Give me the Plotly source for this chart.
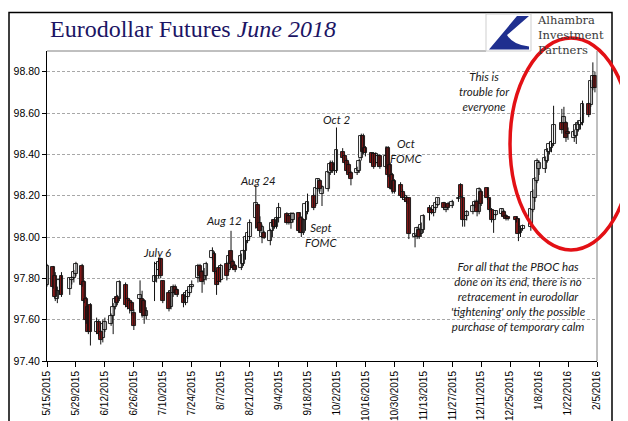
import plotly.graph_objects as go

# ---------------- data ----------------
dates = [
    "2015-05-15", "2015-05-18", "2015-05-19", "2015-05-20", "2015-05-21", "2015-05-22",
    "2015-05-26", "2015-05-27", "2015-05-28", "2015-05-29",
    "2015-06-01", "2015-06-02", "2015-06-03", "2015-06-04", "2015-06-05",
    "2015-06-08", "2015-06-09", "2015-06-10", "2015-06-11", "2015-06-12",
    "2015-06-15", "2015-06-16", "2015-06-17", "2015-06-18", "2015-06-19",
    "2015-06-22", "2015-06-23", "2015-06-24", "2015-06-25", "2015-06-26",
    "2015-06-29", "2015-06-30", "2015-07-01", "2015-07-02",
    "2015-07-06", "2015-07-07", "2015-07-08", "2015-07-09", "2015-07-10",
    "2015-07-13", "2015-07-14", "2015-07-15", "2015-07-16", "2015-07-17",
    "2015-07-20", "2015-07-21", "2015-07-22", "2015-07-23", "2015-07-24",
    "2015-07-27", "2015-07-28", "2015-07-29", "2015-07-30", "2015-07-31",
    "2015-08-03", "2015-08-04", "2015-08-05", "2015-08-06", "2015-08-07",
    "2015-08-10", "2015-08-11", "2015-08-12", "2015-08-13", "2015-08-14",
    "2015-08-17", "2015-08-18", "2015-08-19", "2015-08-20", "2015-08-21",
    "2015-08-24", "2015-08-25", "2015-08-26", "2015-08-27", "2015-08-28",
    "2015-08-31", "2015-09-01", "2015-09-02", "2015-09-03", "2015-09-04",
    "2015-09-08", "2015-09-09", "2015-09-10", "2015-09-11",
    "2015-09-14", "2015-09-15", "2015-09-16", "2015-09-17", "2015-09-18",
    "2015-09-21", "2015-09-22", "2015-09-23", "2015-09-24", "2015-09-25",
    "2015-09-28", "2015-09-29", "2015-09-30", "2015-10-01", "2015-10-02",
    "2015-10-05", "2015-10-06", "2015-10-07", "2015-10-08", "2015-10-09",
    "2015-10-12", "2015-10-13", "2015-10-14", "2015-10-15", "2015-10-16",
    "2015-10-19", "2015-10-20", "2015-10-21", "2015-10-22", "2015-10-23",
    "2015-10-26", "2015-10-27", "2015-10-28", "2015-10-29", "2015-10-30",
    "2015-11-02", "2015-11-03", "2015-11-04", "2015-11-05", "2015-11-06",
    "2015-11-09", "2015-11-10", "2015-11-11", "2015-11-12", "2015-11-13",
    "2015-11-16", "2015-11-17", "2015-11-18", "2015-11-19", "2015-11-20",
    "2015-11-23", "2015-11-24", "2015-11-25", "2015-11-27",
    "2015-11-30", "2015-12-01", "2015-12-02", "2015-12-03", "2015-12-04",
    "2015-12-07", "2015-12-08", "2015-12-09", "2015-12-10", "2015-12-11",
    "2015-12-14", "2015-12-15", "2015-12-16", "2015-12-17", "2015-12-18",
    "2015-12-21", "2015-12-22", "2015-12-23", "2015-12-24",
    "2015-12-28", "2015-12-29", "2015-12-30", "2015-12-31",
    "2016-01-04", "2016-01-05", "2016-01-06", "2016-01-07", "2016-01-08",
    "2016-01-11", "2016-01-12", "2016-01-13", "2016-01-14", "2016-01-15",
    "2016-01-19", "2016-01-20", "2016-01-21", "2016-01-22",
    "2016-01-25", "2016-01-26", "2016-01-27", "2016-01-28", "2016-01-29",
    "2016-02-01", "2016-02-02", "2016-02-03", "2016-02-04",
]

open_p = [
    97.77, 97.855, 97.81, 97.70, 97.74, 97.81,
    97.75, 97.79, 97.80, 97.82,
    97.86, 97.78, 97.70, 97.66, 97.67,
    97.54, 97.59, 97.54, 97.51, 97.55,
    97.58, 97.62, 97.66, 97.71, 97.70,
    97.77, 97.70, 97.69, 97.68, 97.63,
    97.70, 97.70, 97.69, 97.62,
    97.78, 97.81, 97.84, 97.895, 97.785,
    97.73, 97.66, 97.73, 97.76, 97.745,
    97.72, 97.68, 97.71, 97.73, 97.76,
    97.80, 97.86, 97.83, 97.79, 97.81,
    97.90, 97.92, 97.83, 97.85, 97.79,
    97.87, 97.84, 97.93, 97.88, 97.86,
    97.85, 97.87, 97.93, 97.98, 98.00,
    98.09, 98.155, 98.07, 98.00, 98.02,
    97.98, 98.03, 98.08, 98.05, 98.09,
    98.11, 98.10, 98.07, 98.08,
    98.115, 98.09, 98.02, 98.08, 98.12,
    98.20, 98.16, 98.23, 98.27, 98.21,
    98.23, 98.31, 98.36, 98.32, 98.32,
    98.41, 98.39, 98.37, 98.35, 98.31,
    98.31, 98.32, 98.38, 98.49, 98.43,
    98.405, 98.40, 98.36, 98.36, 98.39,
    98.34, 98.43, 98.35, 98.30, 98.27,
    98.25, 98.22, 98.18, 98.19, 98.187,
    98.00, 98.005, 98.036, 98.013, 98.036,
    98.14, 98.13, 98.116, 98.14, 98.156,
    98.165, 98.13, 98.16, 98.15,
    98.185, 98.25, 98.19, 98.08, 98.10,
    98.12, 98.15, 98.17, 98.12, 98.22,
    98.235, 98.187, 98.13, 98.084, 98.108,
    98.11, 98.12, 98.10, 98.095,
    98.095, 98.087, 98.02, 98.04,
    98.05, 98.13, 98.19, 98.27, 98.33,
    98.33, 98.37, 98.41, 98.43, 98.45,
    98.55, 98.53, 98.55, 98.51,
    98.48, 98.49, 98.52, 98.54, 98.55,
    98.645, 98.64, 98.72, 98.78,
]

high_p = [
    97.87, 97.86, 97.83, 97.76, 97.80, 97.83,
    97.80, 97.81, 97.84, 97.88,
    97.87, 97.79, 97.71, 97.67, 97.68,
    97.61, 97.60, 97.55, 97.60, 97.61,
    97.63, 97.68, 97.71, 97.72, 97.79,
    97.78, 97.71, 97.70, 97.69, 97.65,
    97.79, 97.74, 97.70, 97.66,
    97.88, 97.88, 97.90, 97.90, 97.79,
    97.74, 97.76, 97.77, 97.77, 97.75,
    97.73, 97.74, 97.75, 97.77, 97.79,
    97.87, 97.87, 97.84, 97.85, 97.88,
    97.95, 97.93, 97.84, 97.86, 97.87,
    97.88, 97.93, 98.03, 97.89, 97.87,
    97.92, 97.94, 98.01, 98.03, 98.085,
    98.25, 98.16, 98.10, 98.06, 98.03,
    98.04, 98.08, 98.09, 98.10, 98.165,
    98.12, 98.11, 98.12, 98.12,
    98.12, 98.10, 98.09, 98.17, 98.21,
    98.21, 98.24, 98.285, 98.28, 98.25,
    98.32, 98.37, 98.37, 98.36, 98.53,
    98.43, 98.40, 98.38, 98.36, 98.32,
    98.34, 98.38, 98.50, 98.50, 98.44,
    98.41, 98.41, 98.41, 98.40, 98.40,
    98.44, 98.44, 98.36, 98.31, 98.28,
    98.265, 98.23, 98.21, 98.20, 98.19,
    98.02, 98.05, 98.045, 98.07, 98.11,
    98.155, 98.14, 98.15, 98.175, 98.19,
    98.17, 98.16, 98.17, 98.18,
    98.20, 98.26, 98.20, 98.12, 98.13,
    98.16, 98.18, 98.18, 98.24, 98.23,
    98.24, 98.19, 98.14, 98.12, 98.13,
    98.14, 98.13, 98.11, 98.10,
    98.10, 98.09, 98.05, 98.06,
    98.14, 98.23, 98.29, 98.38, 98.37,
    98.39, 98.43, 98.46, 98.47, 98.635,
    98.62, 98.63, 98.56, 98.53,
    98.52, 98.55, 98.56, 98.58, 98.66,
    98.65, 98.76, 98.845, 98.80,
]

low_p = [
    97.76, 97.75, 97.69, 97.68, 97.72, 97.71,
    97.72, 97.77, 97.78, 97.81,
    97.76, 97.68, 97.58, 97.53, 97.475,
    97.53, 97.52, 97.48, 97.49, 97.54,
    97.57, 97.53, 97.65, 97.67, 97.69,
    97.66, 97.65, 97.63, 97.62, 97.55,
    97.64, 97.61, 97.58, 97.60,
    97.69, 97.78, 97.80, 97.80, 97.68,
    97.64, 97.65, 97.71, 97.72, 97.71,
    97.66, 97.67, 97.70, 97.72, 97.75,
    97.78, 97.80, 97.73, 97.77, 97.79,
    97.89, 97.82, 97.72, 97.77, 97.78,
    97.79, 97.83, 97.85, 97.84, 97.83,
    97.84, 97.86, 97.89, 97.97, 97.99,
    98.04, 98.03, 98.02, 97.97, 97.99,
    97.96, 98.00, 98.04, 98.04, 98.07,
    98.06, 98.06, 98.04, 98.07,
    98.02, 98.00, 98.01, 98.03, 98.11,
    98.13, 98.15, 98.22, 98.22, 98.15,
    98.22, 98.30, 98.31, 98.30, 98.31,
    98.37, 98.35, 98.31, 98.29, 98.25,
    98.30, 98.31, 98.37, 98.40, 98.39,
    98.35, 98.33, 98.35, 98.34, 98.33,
    98.33, 98.29, 98.23, 98.21, 98.21,
    98.19, 98.18, 98.17, 98.16, 97.99,
    97.95, 97.99, 97.99, 98.00, 98.02,
    98.08, 98.11, 98.10, 98.13, 98.15,
    98.13, 98.12, 98.13, 98.14,
    98.17, 98.19, 98.05, 98.05, 98.08,
    98.11, 98.14, 98.10, 98.11, 98.15,
    98.18, 98.12, 98.07, 98.02, 98.10,
    98.10, 98.09, 98.08, 98.08,
    98.07, 97.98, 98.00, 98.03,
    98.03, 98.12, 98.17, 98.26, 98.30,
    98.31, 98.36, 98.40, 98.41, 98.44,
    98.50, 98.48, 98.46, 98.47,
    98.46, 98.45, 98.51, 98.52, 98.54,
    98.58, 98.63, 98.71, 98.70,
]

close_p = [
    97.86, 97.76, 97.71, 97.75, 97.79, 97.72,
    97.80, 97.80, 97.83, 97.87,
    97.77, 97.69, 97.60, 97.54, 97.54,
    97.59, 97.53, 97.50, 97.58, 97.59,
    97.62, 97.66, 97.70, 97.68, 97.78,
    97.67, 97.66, 97.65, 97.64, 97.57,
    97.72, 97.63, 97.62, 97.64,
    97.81, 97.87, 97.88, 97.81, 97.69,
    97.65, 97.74, 97.76, 97.73, 97.72,
    97.68, 97.73, 97.74, 97.76, 97.77,
    97.86, 97.81, 97.78, 97.83, 97.87,
    97.93, 97.83, 97.77, 97.78, 97.86,
    97.81, 97.91, 97.87, 97.85, 97.84,
    97.91, 97.93, 98.00, 98.02, 98.07,
    98.165, 98.045, 98.03, 98.05, 97.995,
    98.03, 98.07, 98.05, 98.09, 98.14,
    98.07, 98.07, 98.11, 98.11,
    98.03, 98.02, 98.08, 98.16, 98.17,
    98.14, 98.235, 98.28, 98.23, 98.24,
    98.315, 98.355, 98.32, 98.35, 98.42,
    98.38, 98.36, 98.32, 98.30, 98.28,
    98.33, 98.37, 98.49, 98.41, 98.405,
    98.36, 98.34, 98.40, 98.39, 98.34,
    98.39, 98.30, 98.235, 98.23, 98.22,
    98.20, 98.19, 98.20, 98.17, 98.013,
    98.013, 98.044, 98.00, 98.06, 98.10,
    98.115, 98.116, 98.148, 98.163, 98.187,
    98.14, 98.15, 98.14, 98.17,
    98.19, 98.195, 98.08, 98.10, 98.12,
    98.15, 98.17, 98.12, 98.23, 98.16,
    98.187, 98.13, 98.084, 98.116, 98.124,
    98.135, 98.095, 98.087, 98.085,
    98.08, 98.015, 98.047, 98.055,
    98.135, 98.22, 98.28, 98.37, 98.36,
    98.38, 98.42, 98.45, 98.46, 98.54,
    98.52, 98.58, 98.48, 98.50,
    98.51, 98.54, 98.55, 98.56, 98.645,
    98.59, 98.755, 98.78, 98.72,
]

tick_dates = [
    "2015-05-15", "2015-05-29", "2015-06-12", "2015-06-26", "2015-07-10",
    "2015-07-24", "2015-08-07", "2015-08-21", "2015-09-04", "2015-09-18",
    "2015-10-02", "2015-10-16", "2015-10-30", "2015-11-13", "2015-11-27",
    "2015-12-11", "2015-12-25", "2016-01-08", "2016-01-22", "2016-02-05",
]
tick_labels = [
    "5/15/2015", "5/29/2015", "6/12/2015", "6/26/2015", "7/10/2015",
    "7/24/2015", "8/7/2015", "8/21/2015", "9/4/2015", "9/18/2015",
    "10/2/2015", "10/16/2015", "10/30/2015", "11/13/2015", "11/27/2015",
    "12/11/2015", "12/25/2015", "1/8/2016", "1/22/2016", "2/5/2016",
]

# ---------------- geometry helpers ----------------
W, H = 628, 421
ML, MR, MT, MB = 39, 39, 43, 68
PW, PH = W - ML - MR, H - MT - MB


def fx(x):
    return (x - ML) / PW


def fy(y):
    return (H - MB - y) / PH


n = len(dates)
wick_x, wick_y = [], []
for d, hi, lo in zip(dates, high_p, low_p):
    wick_x += [d, d, None]
    wick_y += [lo, hi, None]

up = [i for i in range(n) if close_p[i] >= open_p[i]]
dn = [i for i in range(n) if close_p[i] < open_p[i]]
DAY = 86400000
BW = 1.9 * DAY

fig = go.Figure()
fig.add_trace(go.Scatter(x=wick_x, y=wick_y, mode="lines",
                         line=dict(color="#111111", width=1),
                         hoverinfo="skip", showlegend=False))
fig.add_trace(go.Bar(x=[dates[i] for i in up],
                     y=[close_p[i] - open_p[i] for i in up],
                     base=[open_p[i] for i in up], width=BW,
                     marker=dict(color="white", line=dict(color="#111111", width=0.9)),
                     showlegend=False, hoverinfo="skip"))
fig.add_trace(go.Bar(x=[dates[i] for i in dn],
                     y=[open_p[i] - close_p[i] for i in dn],
                     base=[close_p[i] for i in dn], width=BW,
                     marker=dict(color="#8b1a1a", line=dict(color="#111111", width=0.9)),
                     showlegend=False, hoverinfo="skip"))

ann_font = dict(family="Lato", size=11.5, color="#1a1a1a")


def note(text, x, y, **kw):
    d = dict(text=text, x=fx(x), y=fy(y), xref="paper", yref="paper",
             showarrow=False, font=ann_font, xanchor="center", yanchor="middle")
    d.update(kw)
    return d


annotations = [
    dict(text="Eurodollar Futures <i>June 2018</i>", x=fx(40), y=fy(21),
         xref="paper", yref="paper", showarrow=False, xanchor="left", yanchor="middle",
         font=dict(family="Liberation Serif", size=24, color="#1b1464")),
    dict(text="Alhambra<br>Investment<br>Partners", x=fx(527), y=fy(3),
         xref="paper", yref="paper", showarrow=False, xanchor="left", yanchor="top",
         align="left", font=dict(family="DejaVu Serif", size=11.5, color="#3a3a3a")),
    note("<i>July 6</i>", 149, 244),
    note("<i>Aug 12</i>", 216, 212),
    note("<i>Aug 24</i>", 250, 172),
    note("<i>Oct 2</i>", 329, 112),
    note("<i>Oct<br>FOMC</i>", 398, 143),
    note("<i>Sept<br>FOMC</i>", 313, 227),
    note("<i>This is<br>trouble for<br>everyone</i>", 476, 84),
    note("<i>For all that the PBOC has<br>done on its end, there is no<br>retracement in eurodollar"
         "<br>'tightening' only the possible<br>purchase of temporary calm</i>", 510, 288),
]

# logo blue shape (pixel points converted to paper units)
logo_pts = "M {a},{b} L {c},{b} L {e},{f} Q {g},{h} {c},{i} L {c},{j} L {k},{j} Z".format(
    a=fx(509), b=fy(8), c=fx(521), e=fx(499), f=fy(27), g=fx(505), h=fy(37),
    i=fy(38.5), j=fy(41.5), k=fx(481))

shapes = [
    dict(type="line", xref="paper", yref="paper", x0=0, x1=fx(478), y0=1, y1=1,
         line=dict(color="#808080", width=1)),
    dict(type="line", xref="paper", yref="paper", x0=1, x1=1, y0=0, y1=1,
         line=dict(color="#808080", width=1)),
    dict(type="rect", xref="paper", yref="paper", x0=fx(1), x1=fx(604), y0=fy(415), y1=fy(4.5),
         line=dict(color="black", width=1.5)),
    dict(type="rect", xref="paper", yref="paper", x0=fx(478), x1=fx(523), y0=fy(43), y1=fy(6),
         line=dict(color="#cfcfcf", width=1), fillcolor="white", layer="above"),
    dict(type="path", xref="paper", yref="paper", path=logo_pts,
         fillcolor="#1f2f8f", line=dict(width=0), layer="above"),
    dict(type="circle", xref="paper", yref="paper", x0=fx(502), x1=fx(624), y0=fy(242), y1=fy(30),
         line=dict(color="#e31015", width=3.5), layer="above"),
]

fig.update_layout(
    width=W, height=H, template="none",
    margin=dict(l=ML, r=MR, t=MT, b=MB, pad=0),
    paper_bgcolor="white", plot_bgcolor="white",
    barmode="overlay", bargap=0, showlegend=False, hovermode=False,
    annotations=annotations, shapes=shapes,
    xaxis=dict(type="date", range=["2015-05-15", "2016-02-05"],
               tickmode="array", tickvals=tick_dates, ticktext=tick_labels,
               tickangle=-90, ticks="outside", ticklen=5, tickcolor="black", tickwidth=1,
               showline=True, linecolor="black", linewidth=1, showgrid=False, zeroline=False,
               tickfont=dict(family="Liberation Sans", size=10, color="black")),
    yaxis=dict(range=[97.4, 98.9], tick0=97.4, dtick=0.2, tickformat=".2f",
               ticks="outside", ticklen=4, tickcolor="black", tickwidth=1,
               showline=True, linecolor="black", linewidth=1, zeroline=False,
               showgrid=True, gridcolor="#a8a8a8", gridwidth=1, griddash="3px,2px",
               tickfont=dict(family="Liberation Sans", size=10.5, color="black")),
)

fig.write_html("out.html")
